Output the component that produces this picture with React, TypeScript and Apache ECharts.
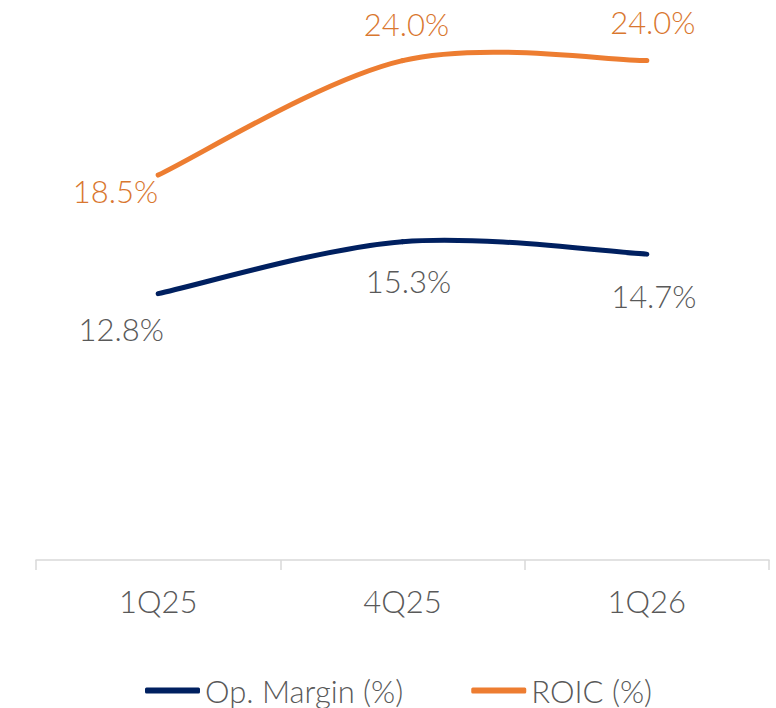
import React, { useEffect, useRef } from "react";
import * as echarts from "echarts";

const categories = ["1Q25", "4Q25", "1Q26"];
const opMargin = [12.8, 15.3, 14.7];
const roic = [18.5, 24.0, 24.0];
const seriesNames = ["Op. Margin (%)", "ROIC (%)"];

const FONT = "Lato, 'Noto Sans', sans-serif";
const GRAY = "#595959";
const NAVY = "#002060";
const ORANGE = "#ED7D31";

// Excel-like smoothed curve (Catmull-Rom -> Bezier) through data points, via api.coord
function makeCurveRenderer(values: number[], color: string) {
  return (params: any, api: any) => {
    const i = params.dataIndex;
    if (i === 0) return null;
    const pt = (k: number) => {
      const kk = Math.max(0, Math.min(values.length - 1, k));
      return api.coord([kk, values[kk]]);
    };
    const p0 = pt(i - 2 < 0 ? i - 1 : i - 2);
    const p1 = pt(i - 1);
    const p2 = pt(i);
    const p3 = pt(i + 1 > values.length - 1 ? i : i + 1);
    const t = 1 / 6;
    return {
      type: "bezierCurve",
      shape: {
        x1: p1[0],
        y1: p1[1],
        cpx1: p1[0] + (p2[0] - p0[0]) * t,
        cpy1: p1[1] + (p2[1] - p0[1]) * t,
        cpx2: p2[0] - (p3[0] - p1[0]) * t,
        cpy2: p2[1] - (p3[1] - p1[1]) * t,
        x2: p2[0],
        y2: p2[1],
      },
      style: { stroke: color, lineWidth: 5, fill: null, lineCap: "round" },
      silent: true,
    };
  };
}

export default function App() {
  const ref = useRef<HTMLDivElement>(null);
  useEffect(() => {
    if (!ref.current) return;
    const chart = echarts.init(ref.current, undefined, { renderer: "svg" });
    const opLabelCfg = [
      { position: "bottom", distance: 18, offset: [-37, 0] },
      { position: "bottom", distance: 22, offset: [6, 0] },
      { position: "bottom", distance: 24, offset: [7, 0] },
    ];
    const roicLabelCfg = [
      { position: "left", distance: 5, offset: [7, 16] },
      { position: "top", distance: 19, offset: [4, 0] },
      { position: "top", distance: 21, offset: [6, 0] },
    ];
    const fmt = (p: any) => `${Number(p.value).toFixed(1)}%`;
    const labelBase = {
      show: true,
      fontSize: 31,
      fontFamily: FONT,
      fontWeight: 300,
      formatter: fmt,
    };
    chart.setOption({
      animation: false,
      backgroundColor: "#ffffff",
      grid: { left: 36, right: 7, top: 19, bottom: 148 },
      xAxis: {
        type: "category",
        data: categories,
        boundaryGap: true,
        axisLine: { show: true, lineStyle: { color: "#D9D9D9", width: 1.5 } },
        axisTick: { show: true, length: 10, lineStyle: { color: "#D9D9D9", width: 1.5 } },
        axisLabel: { color: GRAY, fontSize: 31, fontFamily: FONT, fontWeight: 300, margin: 25 },
      },
      yAxis: {
        type: "value",
        min: 0,
        max: 26,
        show: false,
        splitLine: { show: false },
      },
      legend: {
        data: [
          { name: seriesNames[0], itemStyle: { color: NAVY } },
          { name: seriesNames[1], itemStyle: { color: ORANGE } },
        ],
        top: 670,
        left: 140,
        icon: "roundRect",
        itemWidth: 55,
        itemHeight: 6,
        itemGap: 68,
        textStyle: { color: GRAY, fontSize: 31, fontFamily: FONT, fontWeight: 300 },
      },
      series: [
        {
          type: "custom",
          renderItem: makeCurveRenderer(opMargin, NAVY),
          data: opMargin.map((v, i) => [i, v]),
          encode: { x: 0, y: 1 },
          silent: true,
          z: 1,
        },
        {
          type: "custom",
          renderItem: makeCurveRenderer(roic, ORANGE),
          data: roic.map((v, i) => [i, v]),
          encode: { x: 0, y: 1 },
          silent: true,
          z: 1,
        },
        {
          name: seriesNames[0],
          type: "line",
          data: opMargin.map((v, i) => ({ value: v, label: opLabelCfg[i] })),
          symbol: "circle",
          symbolSize: 4,
          showSymbol: true,
          itemStyle: { color: NAVY },
          lineStyle: { color: NAVY, width: 0, opacity: 0 },
          label: { ...labelBase, color: GRAY },
          z: 2,
        },
        {
          name: seriesNames[1],
          type: "line",
          data: roic.map((v, i) => ({ value: v, label: roicLabelCfg[i] })),
          symbol: "circle",
          symbolSize: 4,
          showSymbol: true,
          itemStyle: { color: ORANGE },
          lineStyle: { color: ORANGE, width: 0, opacity: 0 },
          label: { ...labelBase, color: "#D9772F" },
          z: 2,
        },
      ],
    });
    return () => chart.dispose();
  }, []);
  return (
    <div
      ref={ref}
      style={{ position: "absolute", left: 0, top: 0, width: 776, height: 708 }}
    />
  );
}
